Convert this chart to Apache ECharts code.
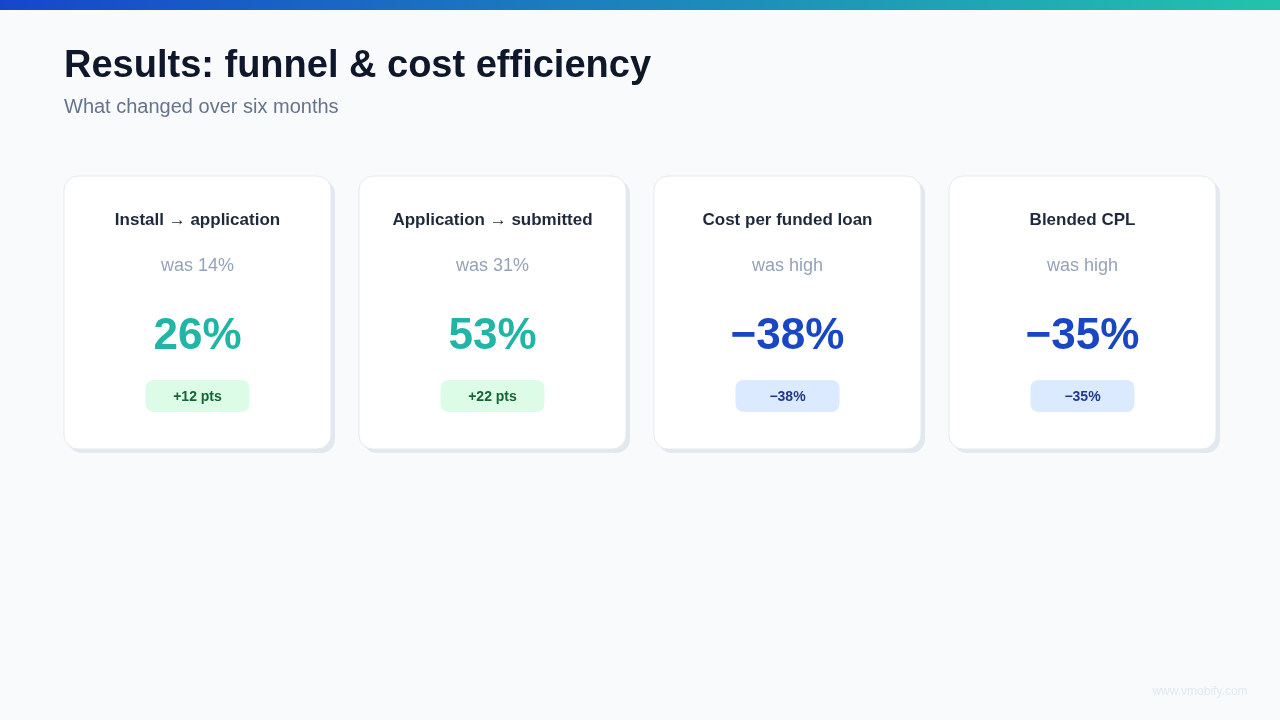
<!DOCTYPE html>
<html><head><meta charset="utf-8">
<script src="https://cdn.jsdelivr.net/npm/echarts@6/dist/echarts.min.js"></script>
<style>html,body{margin:0;padding:0;background:#f8fafc}#c{width:1280px;height:720px}</style>
</head><body><div id="c"></div>
<script>
const titles = ["Install \u2192 application", "Application \u2192 submitted", "Cost per funded loan", "Blended CPL"];
const before = ["was 14%", "was 31%", "was high", "was high"];
const values = ["26%", "53%", "\u221238%", "\u221235%"];
const deltas = ["+12 pts", "+22 pts", "\u221238%", "\u221235%"];
const kinds = ["up", "up", "down", "down"];

const F = "Liberation Sans, Arial, sans-serif";
const styleByKind = {
  up: {val: "#22b5a5", pill: "#dcfce7", pillText: "#166534"},
  down: {val: "#1846c4", pill: "#dbeafe", pillText: "#1e3a8a"}
};
const g = [
  {type: "rect", shape: {x: 0, y: 0, width: 1280, height: 10},
   style: {fill: new echarts.graphic.LinearGradient(0, 0, 1, 0, [{offset: 0, color: "#1646cc"}, {offset: 1, color: "#22c3ad"}])}},
  {type: "text", x: 64, y: 48, style: {text: "Results: funnel & cost efficiency", font: "bold 38px " + F, fill: "#0f172a"}},
  {type: "text", x: 64, y: 97, style: {text: "What changed over six months", font: "20px " + F, fill: "#64748b"}},
  {type: "text", x: 1200, y: 692, style: {text: "www.vmobify.com", font: "12px " + F, fill: "#e2e8f0", align: "center", verticalAlign: "middle"}}
];
titles.forEach((t, i) => {
  const x = 64 + i * 295, w = 267, cx = x + w / 2, s = styleByKind[kinds[i]];
  g.push({type: "rect", shape: {x: x + 4, y: 180, width: w, height: 273, r: 14}, style: {fill: "#e2e8f0"}});
  g.push({type: "rect", shape: {x: x, y: 176, width: w, height: 273, r: 14}, style: {fill: "#ffffff", stroke: "#e5e9f0", lineWidth: 1}});
  g.push({type: "text", x: cx, y: 220, style: {text: t, font: "bold 17px " + F, fill: "#1e293b", align: "center", verticalAlign: "middle"}});
  g.push({type: "text", x: cx, y: 266, style: {text: before[i], font: "18px " + F, fill: "#94a3b8", align: "center", verticalAlign: "middle"}});
  g.push({type: "text", x: cx, y: 337, style: {text: values[i], font: "bold 44px " + F, fill: s.val, align: "center", verticalAlign: "middle"}});
  g.push({type: "rect", shape: {x: cx - 52, y: 380, width: 104, height: 32, r: 8}, style: {fill: s.pill}});
  g.push({type: "text", x: cx, y: 397, style: {text: deltas[i], font: "bold 14px " + F, fill: s.pillText, align: "center", verticalAlign: "middle"}});
});
const chart = echarts.init(document.getElementById("c"));
chart.setOption({backgroundColor: "#f8fafc", graphic: g});
</script></body></html>
